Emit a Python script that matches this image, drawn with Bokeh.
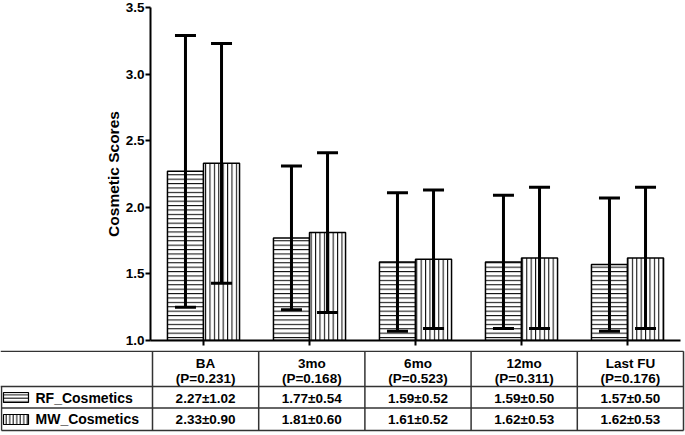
from bokeh.plotting import figure
from bokeh.models import (ColumnDataSource, FactorRange, Range1d, Whisker, TeeHead,
                          FixedTicker, PrintfTickFormatter)
from bokeh.transform import dodge
from bokeh.layouts import column
from bokeh.core.properties import value
from bokeh.embed import file_html
from bokeh.resources import INLINE

# ---- data ----
categories = ["BA", "3mo", "6mo", "12mo", "Last FU"]
p_values = ["0.231", "0.168", "0.523", "0.311", "0.176"]
rf_mean = [2.27, 1.77, 1.59, 1.59, 1.57]
rf_sd = [1.02, 0.54, 0.52, 0.50, 0.50]
mw_mean = [2.33, 1.81, 1.61, 1.62, 1.62]
mw_sd = [0.90, 0.60, 0.52, 0.53, 0.53]
series_names = ["RF_Cosmetics", "MW_Cosmetics"]
y_ticks = [1.0, 1.5, 2.0, 2.5, 3.0, 3.5]

FONT = "Liberation Sans"
W = 685
CH = 350
TH = 85
FL, FR, FT, FB = 150, 5, 7, 10

src = ColumnDataSource(dict(
    cat=categories,
    rf_mean=rf_mean, mw_mean=mw_mean,
    rf_up=[m + s for m, s in zip(rf_mean, rf_sd)],
    rf_lo=[m - s for m, s in zip(rf_mean, rf_sd)],
    mw_up=[m + s for m, s in zip(mw_mean, mw_sd)],
    mw_lo=[m - s for m, s in zip(mw_mean, mw_sd)],
))

p = figure(x_range=FactorRange(*categories), y_range=Range1d(1.0, 3.5),
           width=W, height=CH, output_backend="svg", toolbar_location=None,
           min_border_left=FL, min_border_right=FR, min_border_top=FT,
           min_border_bottom=FB, frame_align=False)
p.outline_line_color = None
p.xgrid.grid_line_color = None
p.ygrid.grid_line_color = None
p.background_fill_color = "white"
p.border_fill_color = "white"

off = 0.17
bw = 0.34
p.vbar(x=dodge("cat", -off, range=p.x_range), top="rf_mean", bottom=0, width=bw,
       source=src, fill_color="white", line_color="black", line_width=1.5,
       hatch_pattern="horizontal_line", hatch_color="black", hatch_scale=4.4,
       hatch_weight=1)
p.vbar(x=dodge("cat", off, range=p.x_range), top="mw_mean", bottom=0, width=bw,
       source=src, fill_color="white", line_color="black", line_width=1.5,
       hatch_pattern="vertical_line", hatch_color="black", hatch_scale=4.4,
       hatch_weight=1)

for sign, up, lo in [(-1, "rf_up", "rf_lo"), (1, "mw_up", "mw_lo")]:
    w = Whisker(base=dodge("cat", sign * off, range=p.x_range), upper=up, lower=lo,
                source=src, line_width=3, line_color="black",
                upper_head=TeeHead(size=21, line_width=3, line_color="black"),
                lower_head=TeeHead(size=21, line_width=3, line_color="black"))
    w.level = "overlay"
    p.add_layout(w)

ya = p.yaxis[0]
ya.ticker = FixedTicker(ticks=y_ticks)
ya.formatter = PrintfTickFormatter(format="%.1f")
ya.minor_tick_line_color = None
ya.axis_label = "Cosmetic Scores"
ya.axis_label_text_font = FONT
ya.axis_label_text_font_style = "bold"
ya.axis_label_text_font_size = "15.5px"
ya.axis_label_text_color = "black"
ya.axis_label_standoff = 1
for ax in (p.xaxis[0], ya):
    ax.axis_line_width = 2
    ax.axis_line_color = "black"
    ax.major_tick_line_width = 2
    ax.major_tick_line_color = "black"
    ax.major_tick_out = 5
    ax.major_tick_in = 0
    ax.major_label_text_font = FONT
    ax.major_label_text_font_style = "bold"
    ax.major_label_text_font_size = "13.5px"
    ax.major_label_text_color = "black"
ya.major_label_standoff = 1
xa = p.xaxis[0]
xa.major_label_text_color = None
xa.major_label_text_font_size = "1px"
xa.major_label_standoff = 0

# ---- table ----
t = figure(width=W, height=TH, x_range=Range1d(0, W), y_range=Range1d(TH, 0),
           output_backend="svg", toolbar_location=None, min_border=0,
           frame_align=False)
t.axis.visible = False
t.xgrid.grid_line_color = None
t.ygrid.grid_line_color = None
t.outline_line_color = None

n = len(categories)
tbl_left, tbl_right = FL + 2, W - 2
cw = (tbl_right - tbl_left) / n
col_edges = [tbl_left + i * cw for i in range(n + 1)]
centers = [tbl_left + (i + 0.5) * cw for i in range(n)]
y_top, y_head, y_r1, y_bot = 0.75, 36, 57.5, 80

x0 = [0, 0, 1, 1, 1] + col_edges
x1 = [tbl_right, tbl_right, tbl_right, tbl_right, 1] + col_edges
y0 = [y_top, y_head, y_r1, y_bot, y_head] + [y_top] * (n + 1)
y1 = [y_top, y_head, y_r1, y_bot, y_bot] + [y_bot] * (n + 1)
t.segment(x0=x0, y0=y0, x1=x1, y1=y1, line_color="#333333", line_width=1.5)

tk = dict(text_font=value(FONT), text_font_style="bold", text_font_size="13.5px",
          text_color="black", text_align="center", text_baseline="middle")
t.text(x=centers, y=[13] * n, text=categories, **tk)
t.text(x=centers, y=[28] * n, text=[f"(P={v})" for v in p_values], **tk)
t.text(x=centers, y=[47.5] * n, text=[f"{m:.2f}\u00b1{s:.2f}" for m, s in zip(rf_mean, rf_sd)], **tk)
t.text(x=centers, y=[68.5] * n, text=[f"{m:.2f}\u00b1{s:.2f}" for m, s in zip(mw_mean, mw_sd)], **tk)

lk = dict(tk)
lk["text_align"] = "left"
lk["text_font_size"] = "14px"
t.text(x=[35, 35], y=[47.5, 68.5], text=series_names, **lk)
t.rect(x=[15.5, 15.5], y=[47, 69], width=25, height=10, fill_color="white",
       line_color="black", line_width=1.2,
       hatch_pattern=["horizontal_line", "vertical_line"], hatch_color="black",
       hatch_scale=3.5, hatch_weight=1)

layout = column(p, t, spacing=0)
open("out.html", "w").write(file_html(layout, INLINE))
